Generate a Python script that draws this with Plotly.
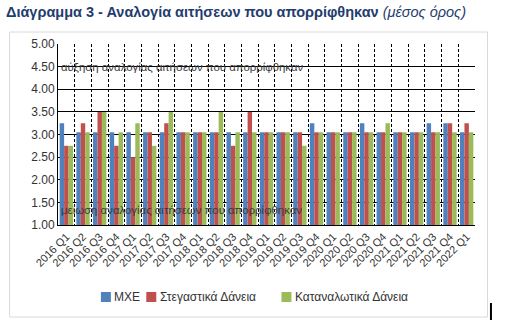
import plotly.graph_objects as go

categories = ["2016 Q1", "2016 Q2", "2016 Q3", "2016 Q4",
              "2017 Q1", "2017 Q2", "2017 Q3", "2017 Q4",
              "2018 Q1", "2018 Q2", "2018 Q3", "2018 Q4",
              "2019 Q1", "2019 Q2", "2019 Q3", "2019 Q4",
              "2020 Q1", "2020 Q2", "2020 Q3", "2020 Q4",
              "2021 Q1", "2021 Q2", "2021 Q3", "2021 Q4",
              "2022 Q1"]

mxe = [3.25, 3.05, 3.05, 3.05, 3.05, 3.05, 3.05, 3.05, 3.05, 3.05, 3.05, 3.05,
       3.05, 3.05, 3.05, 3.25, 3.05, 3.05, 3.25, 3.05, 3.05, 3.05, 3.25, 3.25, 3.05]
housing = [2.75, 3.25, 3.50, 2.75, 2.50, 3.05, 3.25, 3.05, 3.05, 3.05, 2.75, 3.50,
           3.05, 3.05, 3.05, 3.05, 3.05, 3.05, 3.05, 3.05, 3.05, 3.05, 3.05, 3.25, 3.25]
consumer = [2.75, 3.05, 3.50, 3.05, 3.25, 2.75, 3.50, 3.05, 3.05, 3.50, 3.05, 3.05,
            3.05, 3.05, 2.75, 3.05, 3.05, 3.05, 3.05, 3.25, 3.05, 3.05, 3.05, 3.05, 3.05]

series_names = ["MXE", "Στεγαστικά Δάνεια", "Καταναλωτικά Δάνεια"]
series_colors = ["#4F81BD", "#C0504D", "#9BBB59"]

W, H = 506, 332
L, R, T, B = 57.5, 475.5, 44, 225


def px(x):
    return (x - L) / (R - L)


def py(y):
    return (B - y) / (B - T)


fig = go.Figure()
for name, vals, col in zip(series_names, [mxe, housing, consumer], series_colors):
    fig.add_trace(go.Bar(x=categories, y=vals, name=name, marker_color=col,
                         marker_line_width=0, showlegend=False))

FONT = "Liberation Sans, Arial, sans-serif"

# custom legend (square + label), left pixel position of each square
legend_left = [100.5, 146, 281.5]
shapes = [
    dict(type="rect", xref="paper", yref="paper",
         x0=px(9), x1=px(488), y0=py(317), y1=py(32),
         line=dict(color="#D9D9D9", width=1), fillcolor="rgba(0,0,0,0)", layer="below"),
    dict(type="line", xref="paper", yref="paper",
         x0=px(491.5), x1=px(491.5), y0=py(320), y1=py(303),
         line=dict(color="#000000", width=2)),
]
annotations = [
    dict(text="αύξηση αναλογίας αιτήσεων που απορρίφθηκαν", xref="paper", yref="y",
         x=0.002, y=4.5, xanchor="left", yanchor="middle", showarrow=False,
         font=dict(size=11.4, color="#3A3A3A")),
    dict(text="μείωση αναλογίας αιτήσεων που απορρίφθηκαν", xref="paper", yref="y",
         x=0.002, y=1.33, xanchor="left", yanchor="middle", showarrow=False,
         font=dict(size=11.4, color="#3A3A3A")),
]
for name, col, lx in zip(series_names, series_colors, legend_left):
    shapes.append(dict(type="rect", xref="paper", yref="paper",
                       x0=px(lx), x1=px(lx + 10), y0=py(302), y1=py(292),
                       line=dict(width=0), fillcolor=col))
    annotations.append(dict(text=name, xref="paper", yref="paper",
                            x=px(lx + 11.5), y=py(297), xanchor="left", yanchor="middle",
                            showarrow=False, font=dict(size=12, color="#333333")))

fig.update_layout(
    width=W, height=H,
    margin=dict(l=L, r=W - R, t=T, b=H - B),
    paper_bgcolor="white", plot_bgcolor="white",
    barmode="group", bargap=0.2, bargroupgap=0.0,
    font=dict(family=FONT, color="#333333"),
    title=dict(
        text="<b>Διάγραμμα 3 - Αναλογία αιτήσεων που απορρίφθηκαν</b> <i>(μέσος όρος)</i>",
        xref="container", yref="container", x=6 / W, y=1 - 12 / H,
        xanchor="left", yanchor="middle",
        font=dict(family=FONT, size=14.5, color="#1F3D6E"),
    ),
    showlegend=False,
    xaxis=dict(
        type="category", tickson="boundaries", tickangle=-45,
        showgrid=True, gridcolor="#000000", griddash="3px,2px", gridwidth=1,
        showline=True, linecolor="#000000", linewidth=1,
        ticks="", tickfont=dict(size=11, color="#333333"),
    ),
    yaxis=dict(
        range=[1, 5], dtick=0.5, tickformat=".2f",
        showgrid=True, gridcolor="#000000", gridwidth=1,
        showline=True, linecolor="#000000", linewidth=1,
        zeroline=False, ticks="", tickfont=dict(size=12, color="#333333"),
    ),
    annotations=annotations,
    shapes=shapes,
)

fig.write_html("out.html")
